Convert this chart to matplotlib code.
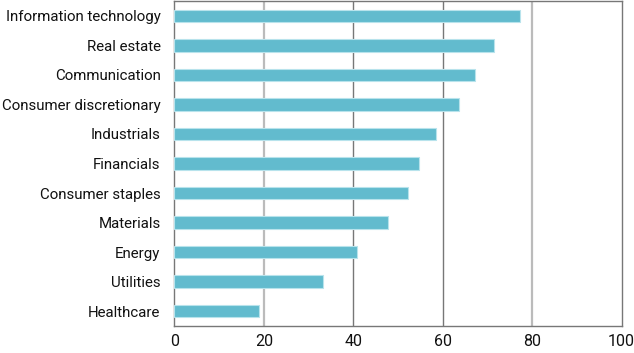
import matplotlib.pyplot as plt

categories = ["Information technology", "Real estate", "Communication",
              "Consumer discretionary", "Industrials", "Financials",
              "Consumer staples", "Materials", "Energy", "Utilities", "Healthcare"]
values = [77.4, 71.4, 67.2, 63.7, 58.5, 54.7, 52.3, 47.7, 40.8, 33.3, 19.0]
xticks = [0, 20, 40, 60, 80, 100]

plt.rcParams["font.family"] = ["Roboto", "DejaVu Sans"]

fig = plt.figure(figsize=(6.34, 3.53), dpi=100)
ax = fig.add_axes([0.2752, 0.0765, 0.7051, 0.9205])

pos = list(range(len(categories)))[::-1]
ax.barh(pos, values, height=0.42, color="#62BBCE", edgecolor="#B8E3EC",
        linewidth=0.8, zorder=3)

for x in xticks[1:-1]:
    if x in (20, 80):
        ax.axvline(x, color="#BBBBBB", lw=1.6, zorder=1)
    else:
        ax.axvline(x, color="#777777", lw=1.0, zorder=1)

ax.set_xlim(0, 100)
ax.set_ylim(-0.5, len(categories) - 0.5)
ax.set_xticks(xticks)
ax.set_yticks(pos)
ax.set_yticklabels(categories)
ax.tick_params(length=0, labelsize=10.8, pad=10, labelcolor="#111111")
ax.tick_params(axis="x", pad=6, labelsize=11.5)
for s in ax.spines.values():
    s.set_color("#777777")
    s.set_linewidth(1.0)

fig.savefig("out.png", dpi=100)
